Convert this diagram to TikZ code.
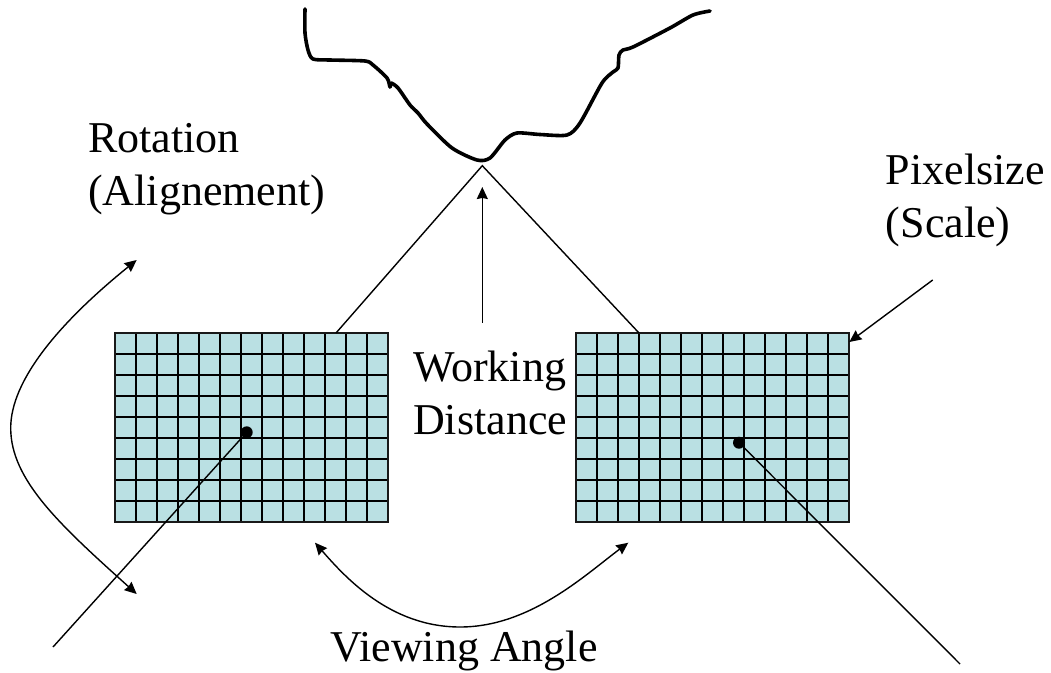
\documentclass[tikz,border=0pt]{standalone}
\usepackage{fontspec}
\setmainfont{Liberation Serif}
\usetikzlibrary{arrows.meta}
\definecolor{gridfill}{RGB}{186,224,227}
\newcommand{\firstline}{\rule{0pt}{35pt}}
\tikzset{
  x=1pt,y=-1pt,
  lbl/.style={inner sep=0pt,align=left,anchor=north west,font=\fontsize{44}{53}\selectfont},
  thin line/.style={line width=1.4pt},
  tipped/.style={-{Stealth[length=12pt,width=11pt,inset=1pt]}},
  arrowed/.style={thin line,tipped},
  twoway/.style={thin line,{Stealth[length=12pt,width=11pt,inset=1pt]}-{Stealth[length=12pt,width=11pt,inset=1pt]}},
  dotmark/.style={circle,fill=black,inner sep=0pt,minimum size=12pt},
  gridline/.style={line width=1.7pt,black},
  gridframe/.style={line width=2pt,black!90},
}
\begin{document}
\begin{tikzpicture}
\useasboundingbox (0,0) rectangle (1051,672);
% surface
\draw[line width=3.6pt,line cap=round,line join=round] plot[smooth,tension=0.45] coordinates {(305,9) (305,33) (308,50) (313,59) (330,60) (365,61) (373,65) (387,78) (390,87) (391,83) (398,88) (410,105) (418,113) (427,124) (452,148) (477,160) (490,158) (505,140) (517,133) (540,134.5) (567,135) (580,123) (602,83) (613,72) (618,68) (619,55) (623,50) (633,47) (670,28) (693,15) (710,11)};
% grids
\foreach \gx in {115.3,576.3}{
  \fill[gridfill] (\gx,333) rectangle ++(273,188.7);
  \foreach \c in {1,...,12} \draw[gridline] ({\gx+\c*273/13},333) -- ++(0,188.7);
  \foreach \r in {1,...,8} \draw[gridline] (\gx,{333+\r*188.7/9}) -- ++(273,0);
  \draw[gridframe] (\gx,333) rectangle ++(273,188.7);
}
\coordinate (apex) at (482.3,165.7);
\coordinate (leftfoot) at (336,333);
\coordinate (rightfoot) at (639,333);
\coordinate (wdbase) at (482.3,322.7);
\coordinate (wdtip) at (482.3,187);
\coordinate (leftend) at (53,647);
\coordinate (rightend) at (960,664);
\coordinate (rota) at (136.7,260);
\coordinate (rotmid) at (10.7,428);
\coordinate (rotb) at (136.7,594);
\coordinate (vaa) at (315,542.7);
\coordinate (vamid) at (460,627);
\coordinate (vab) at (628.3,542.7);
\coordinate (pxa) at (932.7,280);
\coordinate (pxb) at (849.3,342);
\node[dotmark] (dotl) at (246.7,432.3) {};
\node[dotmark] (dotr) at (739,442.7) {};
\draw[thin line] (leftfoot) -- (apex) -- (rightfoot);
\draw[arrowed] (wdbase) -- (wdtip);
\draw[thin line] (dotl) -- (leftend);
\draw[thin line] (dotr) -- (rightend);
\draw[arrowed] (pxa) -- (pxb);
\draw[twoway] (rota) .. controls (60,322) and (10.7,380) .. (rotmid) .. controls (10.7,480) and (60,525) .. (rotb);
\draw[twoway] (vaa) .. controls (345,577) and (390,627) .. (vamid) .. controls (530,627) and (585,575) .. (vab);
% labels
\node[lbl] (rotlab) at (88,117.3) {\firstline Rotation\\(Alignement)};
\node[lbl] (pxlab) at (885.7,149) {\firstline Pixelsize\\(Scale)};
\node[lbl] (wdlab) at (413,346.7) {\firstline Working\\Distance};
\node[lbl] (valab) at (330,626.7) {\firstline Viewing Angle};
\end{tikzpicture}
\end{document}
